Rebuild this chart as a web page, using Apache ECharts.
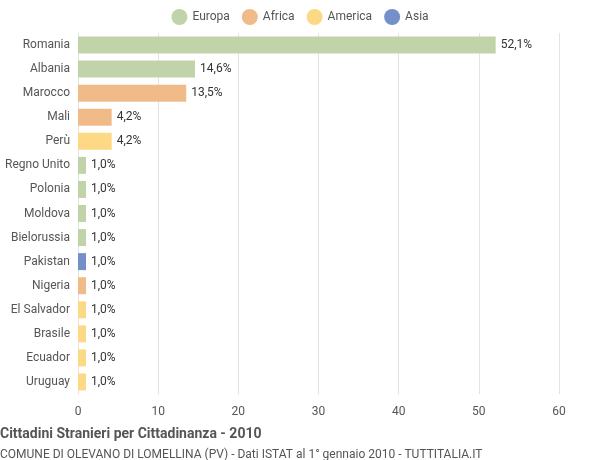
<!DOCTYPE html>
<html><head><meta charset="utf-8">
<script src="https://cdn.jsdelivr.net/npm/echarts@6/dist/echarts.min.js"></script>
<style>body{margin:0}#c{width:600px;height:460px}</style></head>
<body><div id="c"></div>
<script>
// data
const countries = ['Romania','Albania','Marocco','Mali','Perù','Regno Unito','Polonia','Moldova','Bielorussia','Pakistan','Nigeria','El Salvador','Brasile','Ecuador','Uruguay'];
const values = [52.1,14.6,13.5,4.2,4.2,1.0,1.0,1.0,1.0,1.0,1.0,1.0,1.0,1.0,1.0];
const continents = ['Europa','Europa','Africa','Africa','America','Europa','Europa','Europa','Europa','Asia','Africa','America','America','America','America'];
const legendNames = ['Europa','Africa','America','Asia'];
const colors = {Europa:'#c1d4a9', Africa:'#f0bb88', America:'#fdd985', Asia:'#7490c8'};

const chart = echarts.init(document.getElementById('c'));
const series = legendNames.map(n => ({
    name: n, type: 'bar', stack: 'all', barWidth: 17,
    itemStyle: {color: colors[n]},
    label: {show: true, position: 'right', color: '#333', fontSize: 12,
        formatter: p => p.value == null ? '' : p.value.toFixed(1).replace('.', ',') + '%'},
    data: values.map((v, i) => continents[i] === n ? v : null)
}));
chart.setOption({
    textStyle: {fontFamily: 'Roboto, sans-serif'},
    title: {
        text: 'Cittadini Stranieri per Cittadinanza - 2010',
        subtext: 'COMUNE DI OLEVANO DI LOMELLINA (PV) - Dati ISTAT al 1° gennaio 2010 - TUTTITALIA.IT',
        left: -5, top: 422,
        textStyle: {fontSize: 14, fontWeight: 'bold', color: '#555'},
        subtextStyle: {fontSize: 12, color: '#555'},
        itemGap: 8
    },
    legend: {
        top: 4, left: 'center', icon: 'circle', itemWidth: 16, itemHeight: 16, itemGap: 12,
        textStyle: {color: '#555', fontSize: 12},
        data: legendNames
    },
    grid: {left: 78, right: 41, top: 33, bottom: 66, containLabel: false},
    xAxis: {
        type: 'value', min: 0, max: 60, interval: 10,
        axisLabel: {color: '#555', fontSize: 12, margin: 12},
        splitLine: {lineStyle: {color: '#e3e3e3'}},
        axisLine: {show: false}, axisTick: {show: false}
    },
    yAxis: {
        type: 'category', inverse: true, data: countries,
        axisLabel: {color: '#555', fontSize: 12},
        axisLine: {show: false}, axisTick: {show: false}
    },
    series: series
});
</script></body></html>
